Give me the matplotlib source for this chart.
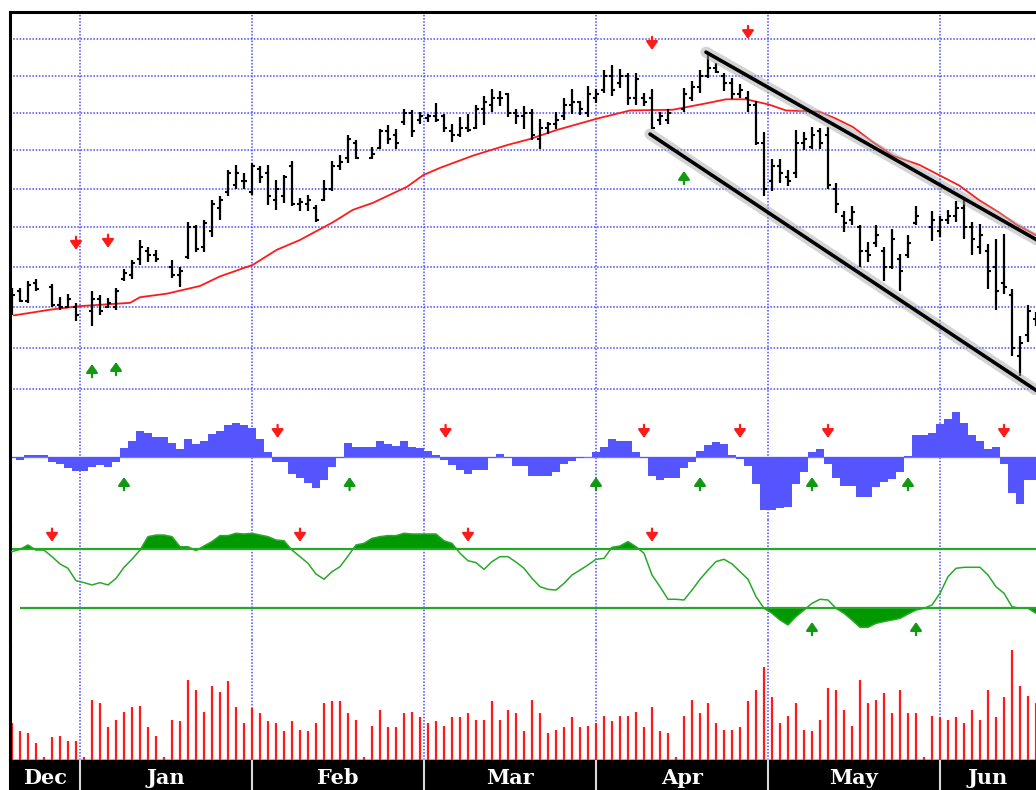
import matplotlib
matplotlib.use("Agg")
from matplotlib import pyplot as plt
import matplotlib.patheffects as pe
import numpy as np

###     Daily bars, Dec .. Jun (None = market holiday)     ###
days = np.arange(129)

high = [62.48, 62.48, 62.64, 62.69, None, 62.57, 62.24, 62.31, 62.10, None,
        62.40, 62.29, 62.21, 62.48, 62.95, 63.18, 63.68, 63.50, 63.43, None,
        63.18, 63.00, 64.13, 64.05, 64.18, 64.70, 64.80, 65.49, 65.62, 65.41,
        65.68, 65.59, 65.62, 65.22, 65.35, 65.73, 64.75, 64.83, 64.58, 65.22,
        65.73, 65.89, 66.41, 66.27, None, 66.08, 66.57, 66.68, 66.57, 67.11,
        67.08, 67.03, 66.97, 67.25, 66.97, 66.70, 66.89, 66.97, 67.22, 67.44,
        67.64, 67.58, 67.53, 67.11, 67.17, 67.11, 66.84, 66.76, 67.03, 67.39,
        67.64, 67.31, 67.72, 67.64, 68.14, 68.28, 68.19, 68.06, 68.06, 67.53,
        67.64, 67.03, 67.11, None, 67.67, 67.86, 68.14, 68.64, 68.33, 68.06,
        67.94, 67.78, 67.58, 67.31, 66.49, 65.76, 65.76, 65.49, 66.54, 66.49,
        66.62, 66.59, 66.62, 65.14, 64.43, 64.55, 64.05, 63.63, 64.05, 63.50,
        63.95, 63.33, 63.80, 64.55, None, 64.43, 64.30, 64.45, 64.68, 64.75,
        64.13, 64.08, 63.58, 63.70, 63.83, 62.45, 61.29, 62.05, 61.88]

low = [61.81, 62.12, 62.10, 62.40, None, 62.00, 61.93, 61.98, 61.64, None,
       61.52, 61.81, 61.98, 61.93, 62.64, 62.69, 63.05, 63.13, 63.13, None,
       62.71, 62.50, 63.20, 63.38, 63.38, 63.75, 64.20, 64.80, 65.00, 65.00,
       64.83, 65.14, 64.58, 64.45, 64.63, 64.55, 64.43, 64.43, 64.13, 64.68,
       64.93, 65.49, 65.68, 65.76, None, 65.76, 66.03, 66.16, 66.03, 66.68,
       66.35, 66.70, 66.76, 66.76, 66.49, 66.22, 66.35, 66.49, 66.57, 66.68,
       67.03, 67.17, 66.89, 66.70, 66.57, 66.27, 66.03, 66.43, 66.57, 66.81,
       66.97, 66.95, 66.89, 67.25, 67.53, 67.44, 67.67, 67.22, 67.22, 67.17,
       66.57, 66.68, 66.70, None, 67.03, 67.31, 67.53, 67.94, 68.06, 67.58,
       67.36, 67.39, 67.03, 66.14, 64.80, 64.95, 65.14, 65.08, 65.27, 66.00,
       66.03, 66.03, 65.00, 64.38, 63.88, 64.05, 63.00, 63.13, 63.50, 62.64,
       62.95, 62.40, 63.23, 64.05, None, 63.65, 63.75, 64.08, 64.13, 63.70,
       63.30, 63.33, 62.45, 61.93, 62.33, 60.80, 60.30, 61.14, 61.52]

opens = [62.1, 62.4, 62.15, 62.6, None, 62.5, 62.05, 62.0, 62.0, None,
         61.9, 62.2, 62.0, 62.0, 62.7, 62.8, 63.2, 63.4, 63.3, None,
         63.0, 62.8, 63.25, 64.0, 63.5, 63.9, 64.5, 64.9, 65.1, 65.2,
         64.9, 65.5, 65.4, 64.7, 64.8, 65.6, 64.6, 64.6, 64.5, 64.7,
         65.0, 65.6, 65.8, 66.2, None, 65.8, 66.05, 66.5, 66.4, 66.75,
         67.0, 66.8, 66.85, 66.9, 66.9, 66.5, 66.4, 66.6, 66.6, 67.1,
         67.2, 67.4, 67.5, 67.0, 66.9, 67.0, 66.3, 66.6, 66.7, 66.9,
         67.2, 67.3, 67.0, 67.4, 67.6, 68.0, 67.8, 68.0, 67.4, 67.4,
         67.4, 66.8, 66.8, None, 67.1, 67.4, 67.7, 68.0, 68.2, 68.0,
         67.8, 67.5, 67.4, 67.2, 66.2, 65.2, 65.6, 65.3, 65.4, 66.2,
         66.1, 66.5, 66.4, 65.0, 64.3, 64.2, 64.0, 63.4, 63.6, 63.4,
         63.0, 63.2, 63.3, 64.1, None, 64.0, 63.9, 64.2, 64.3, 64.5,
         64.0, 63.5, 63.4, 63.0, 62.6, 62.3, 60.8, 61.3, 61.7]

closes = [62.3, 62.15, 62.55, 62.45, None, 62.05, 62.0, 62.2, 61.8, None,
          62.2, 61.9, 62.1, 62.4, 62.85, 63.1, 63.5, 63.3, 63.2, None,
          62.8, 62.9, 64.0, 63.45, 64.1, 64.6, 64.7, 65.4, 65.4, 65.2,
          65.6, 65.3, 64.8, 65.0, 65.3, 64.6, 64.65, 64.7, 64.2, 65.0,
          65.6, 65.7, 66.3, 65.8, None, 65.9, 66.5, 66.3, 66.2, 67.0,
          66.5, 66.9, 66.9, 66.8, 66.6, 66.4, 66.6, 66.55, 67.1, 67.3,
          67.4, 67.4, 67.0, 66.9, 67.0, 66.4, 66.6, 66.7, 66.8, 67.2,
          67.3, 67.1, 67.5, 67.5, 68.0, 67.6, 68.0, 67.4, 67.9, 67.3,
          66.6, 66.9, 67.0, None, 67.5, 67.7, 68.0, 68.2, 68.1, 67.8,
          67.5, 67.6, 67.2, 66.2, 65.0, 65.6, 65.4, 65.2, 66.2, 66.3,
          66.4, 66.2, 65.1, 64.6, 64.1, 64.4, 63.4, 63.3, 63.8, 63.0,
          63.7, 62.9, 63.6, 64.3, None, 64.2, 64.2, 64.3, 64.5, 64.0,
          63.7, 63.8, 62.9, 62.4, 62.5, 61.0, 61.1, 61.9, 61.8]

###     Moving average, read at a few points     ###
ma_day = [0.25, 4.75, 8.5, 14.75, 16, 19.4, 23.5, 26, 30.1, 33.1, 36, 40.1, 42.6,
          45.1, 49.4, 51.4, 53.5, 57.6, 61.9, 64.75, 68.1, 73.1, 77.25, 82.6,
          86.75, 89.25, 91.75, 94.6, 96.75, 100.9, 103, 105.1, 107.6, 110.1,
          113.4, 115.9, 118.4, 120.9, 123.4, 125.5, 128]
ma_val = [61.79, 61.93, 62.02, 62.10, 62.24, 62.33, 62.52, 62.76, 63.05, 63.43, 63.68,
          64.13, 64.45, 64.63, 65.05, 65.35, 65.54, 65.86, 66.14, 66.30, 66.54, 66.84,
          67.06, 67.08, 67.25, 67.36, 67.36, 67.22, 67.06, 67.03, 66.84, 66.62, 66.22,
          65.86, 65.62, 65.35, 65.08, 64.70, 64.38, 64.08, 63.80]

###     Trend channel     ###
upper_channel_day = [86.75, 129.5]
upper_channel_val = [68.64, 63.52]
lower_channel_day = [79.75, 129.5]
lower_channel_val = [66.43, 59.78]

###     Histogram indicator     ###
hist = [-1.7, -3.3, 1.7, 1.7, 1.7, -5, -7.3, -11.7, -14, -14,
        -10.7, -8.3, -10, -5, 8.3, 16, 26, 24, 20, 20,
        14, 7.7, 17.7, 12.3, 16, 22.3, 26, 31.7, 34, 31.7,
        28.3, 17.7, 4.3, -5, -5, -17.3, -21.7, -26.7, -31.7, -23.3,
        -10, -1.7, 14, 10, 10, 10, 16, 12.3, 10.7, 16,
        10, 8.3, 6, 1.7, -3.3, -8.3, -13.3, -17.3, -13.3, -13.3,
        -1.7, 2.3, -1.7, -9.3, -9.3, -19.3, -19.3, -19.3, -15, -7.3,
        -4, -1.7, -0.5, 5, 10, 17.7, 16, 16, 4.3, -1,
        -19.3, -23.3, -21.7, -21.7, -11.7, -5, 6, 11.7, 14.3, 12.7,
        1.7, -2.7, -9.3, -27.3, -53.3, -53.3, -51.7, -50, -27.3, -15,
        4.3, 7.7, -7.3, -21.7, -29.3, -29.3, -40, -40, -30, -25,
        -22.7, -15, 1, 21.7, 21.7, 24, 32.7, 37.7, 44.3, 34,
        21.7, 16, 7.7, 10, -7.3, -36, -47.3, -23.3, -23.3]

###     Oscillator with 70 / 30 bands     ###
osc = [68.4, 70.0, 73.0, 69.5, 69.5, 65.0, 60.0, 57.0, 48.5, 47.2,
       45.6, 47.2, 45.6, 50.1, 57.7, 63.2, 69.5, 78.7, 79.8, 79.8,
       78.7, 71.8, 71.8, 69.1, 72.3, 75.3, 79.4, 79.4, 81.0, 80.5,
       81.0, 79.8, 78.7, 76.4, 75.9, 69.5, 65.0, 60.4, 53.1, 49.5,
       54.7, 58.1, 65.4, 73.0, 74.1, 77.5, 78.7, 79.4, 79.4, 81.0,
       80.5, 80.5, 80.5, 80.5, 75.9, 74.1, 67.3, 62.2, 60.9, 56.3,
       61.6, 65.0, 65.0, 61.3, 57.0, 50.1, 44.4, 42.6, 42.1, 46.7,
       52.4, 55.8, 59.3, 63.2, 63.8, 71.4, 72.3, 75.3, 71.8, 67.3,
       52.4, 44.4, 35.8, 35.8, 35.3, 42.1, 49.5, 55.8, 61.6, 63.2,
       60.0, 54.7, 49.5, 37.6, 29.6, 26.2, 21.6, 18.2, 23.9, 28.4,
       33.0, 35.8, 35.3, 29.6, 26.2, 21.6, 16.6, 16.6, 19.3, 20.5,
       21.6, 22.7, 25.7, 28.4, 29.6, 31.9, 39.9, 51.3, 57.0, 57.7,
       57.7, 57.7, 52.4, 44.4, 39.9, 30.7, 29.6, 29.6, 26.2]
osc_upper = 70
osc_lower = 30

###     Volume     ###
volume = [37, 29, 27, 17, 3, 23, 24, 19, 19, 3,
          60, 57, 33, 40, 48, 53, 54, 33, 24, 3,
          40, 39, 80, 70, 48, 74, 68, 79, 53, 37,
          52, 47, 39, 37, 29, 39, 30, 29, 37, 57,
          59, 59, 47, 40, 3, 34, 50, 33, 33, 47,
          48, 43, 37, 39, 34, 43, 43, 47, 40, 40,
          59, 40, 50, 47, 29, 60, 47, 27, 30, 33,
          43, 33, 34, 37, 44, 39, 44, 44, 48, 33,
          53, 29, 27, 3, 44, 60, 47, 57, 37, 30,
          30, 33, 59, 70, 93, 63, 37, 44, 57, 30,
          29, 40, 72, 70, 50, 34, 80, 57, 60, 67,
          47, 70, 47, 47, 3, 44, 43, 40, 43, 37,
          50, 40, 70, 43, 63, 110, 74, 64, 57]

###     Buy / sell signal arrows     ###
price_sell_day = [8, 12, 80, 92]
price_sell_val = [63.43, 63.48, 68.7, 69.0]
price_buy_day = [10, 13, 84]
price_buy_val = [60.6, 60.65, 65.46]
hist_sell_day = [33.2, 54.2, 79, 91, 102, 124]
hist_buy_day = [14, 42.2, 73, 86, 100, 112]
osc_sell_day = [5, 36, 57, 80]
osc_buy_day = [100, 113]

month_names = ["Dec", "Jan", "Feb", "Mar", "Apr", "May", "Jun"]
month_starts = [8.5, 30, 51.5, 73, 94.5, 116]

GRID = "#4a4aff"
x0, x1 = -0.25, 128.0

high = np.array(high, dtype=float)
low = np.array(low, dtype=float)
opens = np.array(opens, dtype=float)
closes = np.array(closes, dtype=float)
osc = np.array(osc)

W, H = 1036, 790
fig = plt.figure(figsize=(W / 100, H / 100), dpi=100)

def box(top, bottom):
    return [10 / W, 1 - bottom / H, 1 - 10 / W, (bottom - top) / H]

ax_p = fig.add_axes(box(12, 395))
ax_h = fig.add_axes(box(395, 520))
ax_o = fig.add_axes(box(520, 640))
ax_v = fig.add_axes(box(640, 760))
ax_m = fig.add_axes(box(760, 790))

for ax in [ax_p, ax_h, ax_o, ax_v, ax_m]:
    ax.set_xlim(x0, x1)
    ax.set_xticks([])
    ax.set_yticks([])
    for side in ["top", "right", "bottom"]:
        ax.spines[side].set_visible(False)
    ax.spines["left"].set_linewidth(2.2)
    ax.spines["left"].set_color("black")
    if ax is not ax_m:
        for m in month_starts:
            ax.axvline(m, color=GRID, lw=1.1, ls=(0, (1, 1.1)), zorder=0)

def signal(ax, xs, ys, color, down):
    for x, y in zip(xs, ys):
        ax.annotate("", xy=(x, y), xytext=(0, 9.5 if down else -9.5),
                    textcoords="offset points",
                    arrowprops=dict(arrowstyle="-|>,head_length=0.5,head_width=0.35",
                                    color=color, lw=1.6, shrinkA=0, shrinkB=0,
                                    mutation_scale=10))

###     Price panel     ###
ax_p.set_yscale("log")
ax_p.set_ylim(59.856, 69.75)
ax_p.set_yticks([], minor=True)
ax_p.spines["top"].set_visible(True)
ax_p.spines["top"].set_linewidth(2.2)
for level in range(60, 70):
    ax_p.axhline(level, color=GRID, lw=1.1, ls=(0, (1, 1.1)), zorder=0)

ok = ~np.isnan(high)
ax_p.vlines(days[ok], low[ok], high[ok], color="black", lw=1.6, zorder=3)
ax_p.hlines(opens[ok], days[ok] - 0.4, days[ok], color="black", lw=1.5, zorder=3)
ax_p.hlines(closes[ok], days[ok], days[ok] + 0.4, color="black", lw=1.5, zorder=3)
ax_p.plot(ma_day, ma_val, color="#ff1a1a", lw=1.3, zorder=2)

shadow = [pe.Stroke(linewidth=8, foreground="#a8a8a8", alpha=0.5), pe.Normal()]
ax_p.plot(upper_channel_day, upper_channel_val, color="black", lw=2.6,
          solid_capstyle="round", path_effects=shadow, zorder=4)
ax_p.plot(lower_channel_day, lower_channel_val, color="black", lw=2.6,
          solid_capstyle="round", path_effects=shadow, zorder=4)

signal(ax_p, price_sell_day, price_sell_val, "#ff1a1a", True)
signal(ax_p, price_buy_day, price_buy_val, "#119911", False)

###     Histogram panel     ###
ax_h.set_ylim(-63.3, 61.7)
ax_h.bar(days, hist, width=1.0, color="#5555ff", edgecolor="none", zorder=2)
ax_h.axhline(0, color="#7777ff", lw=1, zorder=1)
signal(ax_h, hist_sell_day, [18.7] * len(hist_sell_day), "#ff1a1a", True)
signal(ax_h, hist_buy_day, [-20.3] * len(hist_buy_day), "#119911", False)

###     Oscillator panel     ###
ax_o.set_ylim(7.9, 90.1)
ax_o.fill_between(days, osc, osc_upper, where=osc >= osc_upper, interpolate=True,
                  color="#009900", lw=0, zorder=2)
ax_o.fill_between(days, osc, osc_lower, where=osc <= osc_lower, interpolate=True,
                  color="#009900", lw=0, zorder=2)
ax_o.plot(days, osc, color="#2aa82a", lw=1.1, zorder=3)
ax_o.hlines(osc_upper, 0, 130, color="#22aa22", lw=1.6, zorder=3)
ax_o.hlines(osc_lower, 1, 130, color="#22aa22", lw=1.6, zorder=3)
signal(ax_o, osc_sell_day, [75.2] * len(osc_sell_day), "#ff1a1a", True)
signal(ax_o, osc_buy_day, [20.2] * len(osc_buy_day), "#119911", False)

###     Volume panel     ###
ax_v.set_ylim(0, 120)
ax_v.vlines(days, 0, volume, color="#ff1a1a", lw=1.6, zorder=2)
ax_v.axhline(0.5, color="#b0b0b0", lw=1.5, zorder=1)

###     Month strip     ###
ax_m.set_facecolor("black")
ax_m.set_ylim(0, 1)
for m in month_starts:
    ax_m.axvline(m, color="#d8d8d8", lw=1.5)
edges = [x0] + month_starts + [x1]
for name, a, b in zip(month_names, edges[:-1], edges[1:]):
    ax_m.text((a + b) / 2, 0.4, name, color="white", ha="center", va="center",
              fontsize=15, fontweight="bold", family="DejaVu Serif")

fig.savefig("out.png", dpi=100)
